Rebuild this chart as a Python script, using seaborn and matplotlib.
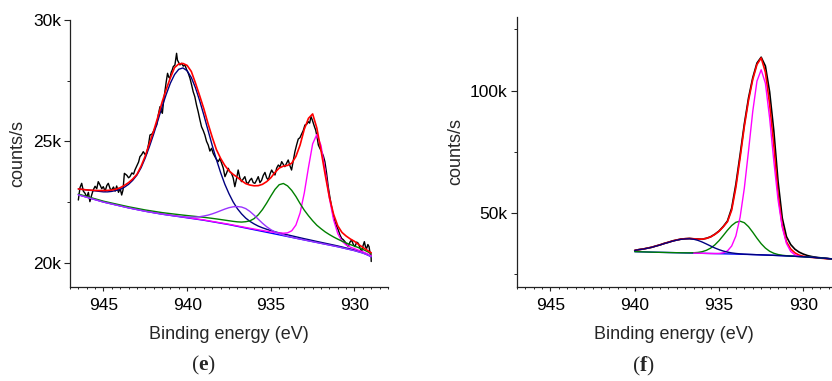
import numpy as np
import pandas as pd
import seaborn as sns
import matplotlib.pyplot as plt
import matplotlib.ticker as ticker

# ---------------- panel (e) ----------------
# fit curves sampled every 0.25 eV from 946.5 to 929.0 eV (counts/s)
e_energy = np.arange(946.5, 928.99, -0.25)
e_background = [22800, 22750, 22700, 22650, 22600, 22550, 22500, 22460, 22420, 22380,
                22340, 22300, 22260, 22225, 22190, 22155, 22120, 22090, 22060, 22030,
                22000, 21975, 21950, 21925, 21900, 21875, 21850, 21825, 21800, 21775,
                21750, 21720, 21690, 21660, 21630, 21600, 21570, 21535, 21500, 21465,
                21430, 21395, 21360, 21325, 21290, 21255, 21220, 21185, 21150, 21115,
                21080, 21045, 21010, 20975, 20940, 20905, 20870, 20835, 20800, 20765,
                20730, 20695, 20660, 20620, 20580, 20540, 20500, 20450, 20400, 20330,
                20250]
# component heights above the background
e_navy = [240, 270, 300, 330, 360, 390, 420, 460, 520, 600,
          680, 810, 970, 1170, 1420, 1760, 2200, 2700, 3240, 3820,
          4420, 4960, 5450, 5830, 6070, 6150, 6060, 5805, 5405, 4900,
          4330, 3735, 3140, 2590, 2085, 1640, 1275, 970, 730, 550,
          410, 310, 240, 185, 150, 125, 105, 90, 80, 75,
          70, 65, 60, 55, 50, 48, 45, 42, 40, 38,
          36, 34, 32, 30, 28, 26, 25, 24, 22, 21, 20]
e_purple = [2, 2, 2, 2, 2, 2, 2, 3, 3, 3,
            3, 3, 3, 3, 3, 3, 3, 3, 3, 3,
            3, 4, 4, 6, 11, 19, 32, 52, 81, 121,
            175, 242, 323, 415, 513, 610, 698, 769, 814, 830,
            801, 720, 602, 468, 339, 229, 144, 84, 46, 23,
            11, 5, 2, 1, 0, 0, 0, 0, 0, 0,
            0, 0, 0, 0, 0, 0, 0, 0, 0, 0, 0]
e_green = [30, 31, 32, 33, 34, 35, 36, 37, 38, 40,
           42, 44, 46, 48, 50, 52, 54, 57, 60, 63,
           66, 70, 74, 78, 83, 88, 94, 100, 108, 115,
           122, 130, 138, 145, 150, 155, 160, 170, 185, 210,
           260, 330, 456, 649, 899, 1200, 1527, 1836, 2064, 2150,
           2086, 1935, 1720, 1462, 1226, 1032, 860, 710, 602, 505,
           430, 366, 312, 269, 237, 209, 187, 168, 151, 135, 123]
e_magenta = [5, 5, 5, 6, 6, 6, 7, 7, 7, 8,
             8, 8, 9, 9, 9, 10, 10, 10, 11, 11,
             11, 12, 12, 12, 12, 13, 13, 13, 13, 13,
             13, 13, 13, 13, 14, 15, 16, 17, 18, 20,
             22, 25, 29, 33, 38, 44, 49, 62, 78, 102,
             151, 271, 543, 1077, 1931, 3022, 4027, 4450, 4027, 3022,
             1931, 1077, 543, 271, 151, 102, 78, 62, 49, 44, 38]
e_envelope = [23040, 23020, 23000, 22990, 22980, 22975, 22975, 22980, 22995, 23030,
              23090, 23185, 23300, 23450, 23640, 23980, 24400, 24920, 25430, 26000,
              26610, 27140, 27620, 28040, 28190, 28210, 28130, 27880, 27400, 26880,
              26340, 25730, 25170, 24660, 24300, 24010, 23790, 23640, 23520, 23380,
              23260, 23200, 23170, 23175, 23230, 23340, 23500, 23720, 23900, 23980,
              24010, 24100, 24380, 24850, 25500, 25950, 26130, 25550, 24620, 23620,
              22700, 22000, 21520, 21250, 21100, 20980, 20880, 20750, 20630, 20520, 20410]
# measured spectrum
e_data_energy = [946.50, 946.40, 946.30, 946.20, 946.10, 946.00, 945.90, 945.81, 945.70, 945.61,
                 945.50, 945.40, 945.31, 945.20, 945.10, 945.01, 944.90, 944.80, 944.71, 944.60,
                 944.51, 944.40, 944.30, 944.21, 944.10, 944.00, 943.91, 943.83, 943.75, 943.60,
                 943.50, 943.42, 943.30, 943.20, 943.12, 943.00, 942.90, 942.82, 942.72, 942.62,
                 942.50, 942.42, 942.30, 942.22, 942.10, 942.02, 941.92, 941.82, 941.72, 941.62,
                 941.55, 941.48, 941.40, 941.33, 941.25, 941.17, 941.10, 941.03, 940.95, 940.89,
                 940.83, 940.73, 940.63, 940.58, 940.53, 940.43, 940.33, 940.23, 940.13, 940.03,
                 939.93, 939.83, 939.73, 939.64, 939.54, 939.44, 939.34, 939.24, 939.14, 939.04,
                 938.94, 938.84, 938.74, 938.64, 938.54, 938.44, 938.34, 938.24, 938.14, 938.04,
                 937.94, 937.84, 937.74, 937.64, 937.54, 937.45, 937.35, 937.25, 937.15, 937.05,
                 936.95, 936.85, 936.75, 936.65, 936.55, 936.45, 936.35, 936.25, 936.15, 936.05,
                 935.95, 935.85, 935.75, 935.65, 935.55, 935.45, 935.35, 935.25, 935.15, 935.05,
                 934.95, 934.85, 934.75, 934.65, 934.55, 934.45, 934.35, 934.25, 934.16, 934.06,
                 933.96, 933.86, 933.76, 933.66, 933.56, 933.46, 933.36, 933.26, 933.16, 933.06,
                 932.96, 932.86, 932.76, 932.68, 932.60, 932.53, 932.46, 932.39, 932.32, 932.24,
                 932.16, 932.06, 931.96, 931.86, 931.77, 931.67, 931.57, 931.47, 931.37, 931.27,
                 931.17, 931.07, 930.97, 930.87, 930.77, 930.67, 930.57, 930.47, 930.37, 930.27,
                 930.17, 930.07, 929.97, 929.87, 929.77, 929.67, 929.57, 929.49, 929.41, 929.34,
                 929.27, 929.20, 929.13, 929.07, 929.01, 929.00]
e_data_counts = [22584, 23100, 23272, 22950, 22860, 22700, 22900, 22516, 22800, 22996,
                 23150, 23050, 23340, 23200, 23050, 23134, 22950, 23180, 23272, 23050,
                 22996, 23120, 22950, 23162, 22900, 23050, 22790, 23000, 23683, 23600,
                 23500, 23546, 23700, 23650, 23820, 24000, 24150, 24369, 24450, 24575,
                 24450, 24507, 24900, 25262, 25300, 25398, 25550, 25674, 26100, 26430,
                 26250, 26156, 26700, 27048, 27450, 27804, 27650, 27600, 27850, 27940,
                 28077, 28146, 28628, 28350, 28283, 28150, 28216, 28100, 28146, 27950,
                 27804, 27600, 27322, 27050, 26840, 26500, 26222, 25900, 25604, 25450,
                 25262, 25000, 24850, 24600, 24714, 24500, 24370, 24250, 24164, 24300,
                 24096, 23900, 23546, 23700, 23890, 23750, 23683, 23500, 23134, 23450,
                 23820, 23500, 23340, 23450, 23546, 23300, 23272, 23400, 23478, 23300,
                 23272, 23400, 23546, 23300, 23396, 23600, 23720, 23500, 23408, 23650,
                 23820, 23700, 23614, 23900, 24026, 23950, 24164, 24050, 23958, 24100,
                 24233, 24000, 23820, 24200, 24575, 24850, 25096, 25150, 25303, 25450,
                 25674, 25700, 25811, 25750, 26017, 25900, 25743, 25600, 25468, 25200,
                 24850, 24700, 24575, 24400, 24164, 23700, 23134, 22700, 22308, 21950,
                 21690, 21500, 21348, 21150, 21004, 20950, 20868, 20750, 20661, 20850,
                 20936, 20750, 20661, 20850, 20800, 20600, 20454, 20700, 20868, 20650,
                 20594, 20750, 20661, 20400, 20318, 20050]

# ---------------- panel (f) ----------------
f_energy = np.arange(940.0, 928.24, -0.25)
f_background = [34300, 34250, 34200, 34150, 34100, 34060, 34020, 33980, 33940, 33900,
                33860, 33820, 33780, 33740, 33700, 33660, 33620, 33580, 33540, 33500,
                33460, 33420, 33380, 33340, 33300, 33250, 33200, 33150, 33100, 33040,
                32980, 32920, 32860, 32790, 32720, 32650, 32570, 32490, 32400, 32310,
                32220, 32120, 32010, 31890, 31760, 31620, 31460, 31300]
f_navy = [500, 847, 1148, 1520, 1960, 2465, 3010, 3584, 4153, 4681,
          5145, 5498, 5725, 5800, 5655, 5237, 4605, 3851, 3057, 2303,
          1653, 1125, 725, 447, 261, 145, 75, 41, 20, 10,
          5, 0, 0, 0, 0, 0, 0, 0, 0, 0,
          0, 0, 0, 0, 0, 0, 0, 0]
f_green = [0, 0, 0, 0, 0, 0, 0, 0, 0, 0,
           6, 14, 30, 67, 148, 323, 660, 1253, 2182, 3543,
           5320, 7435, 9645, 11610, 12970, 13470, 12904, 11328, 9119, 6735,
           4553, 2829, 1603, 842, 404, 175, 67, 25, 10, 0,
           0, 0, 0, 0, 0, 0, 0, 0]
f_magenta = [np.nan] * 14 + [0, 0, 0, 5, 10, 30,
             120, 410, 1210, 3250, 7400, 15100, 26950, 42280, 58360, 70820,
             75500, 70060, 55950, 38430, 22730, 11550, 5060, 1890, 600, 170] + [np.nan] * 8
f_envelope = [34800, 35120, 35380, 35700, 36100, 36570, 37080, 37620, 38150, 38650,
              39080, 39400, 39600, 39650, 39550, 39400, 39400, 39700, 40300, 41300,
              42600, 44400, 46500, 51200, 60500, 72500, 85300, 96000, 104500, 110600,
              113300, 107500, 94500, 77500, 58000, 45000, 38300, 35400, 33800, 32900,
              32400, 32150, 31950, 31800, 31650, 31500, 31380, 31250]
f_data_counts = [34750, 35150, 35350, 35750, 36050, 36600, 37050, 37680, 38100, 38700,
                 39050, 39450, 39550, 39700, 39500, 39450, 39350, 39750, 40350, 41400,
                 42700, 44550, 46800, 52000, 61800, 73800, 86300, 97000, 105200, 111200,
                 113600, 110000, 99500, 83500, 63000, 48000, 40400, 37200, 35300, 34100,
                 33300, 32700, 32300, 32000, 31800, 31600, 31450, 31300]

NAVY, BLUE, PURPLE = '#000080', '#0000FF', '#9933FF'
GREEN, MAGENTA, RED = '#008000', '#FF00FF', '#FF0000'

sns.set_style('ticks')
plt.rcParams['font.family'] = ['Liberation Sans', 'DejaVu Sans']
plt.rcParams['mathtext.fontset'] = 'custom'
plt.rcParams['mathtext.rm'] = 'Liberation Serif'
plt.rcParams['mathtext.bf'] = 'Liberation Serif:bold'

fig = plt.figure(figsize=(8.32, 3.81), dpi=100)
ax_e = fig.add_axes([0.0841, 0.2467, 0.3822, 0.7008])
ax_f = fig.add_axes([0.6210, 0.2475, 0.3790, 0.7079])


def line(ax, x, y, color, lw=1.0):
    sns.lineplot(x=x, y=y, ax=ax, color=color, linewidth=lw, sort=False,
                 errorbar=None, legend=False)


# panel (e)
e_bg = np.array(e_background)
line(ax_e, e_data_energy, e_data_counts, 'black', 1.0)
line(ax_e, e_energy, e_bg, BLUE)
line(ax_e, e_energy, e_bg + np.array(e_navy), NAVY)
line(ax_e, e_energy, e_bg + np.array(e_magenta), MAGENTA)
line(ax_e, e_energy, e_bg + np.array(e_green), GREEN)
line(ax_e, e_energy, e_bg + np.array(e_purple), PURPLE)
line(ax_e, e_energy, e_envelope, RED, 1.2)

# panel (f)
f_bg = np.array(f_background)
line(ax_f, f_energy, f_data_counts, 'black', 1.2)
line(ax_f, f_energy, f_envelope, RED, 1.2)
line(ax_f, f_energy, f_bg, BLUE)
line(ax_f, f_energy, f_bg + np.array(f_green), GREEN)
line(ax_f, f_energy, f_bg + np.array(f_magenta), MAGENTA)
line(ax_f, f_energy, f_bg + np.array(f_navy), NAVY)

kfmt = ticker.FuncFormatter(lambda v, p: '{:d}k'.format(int(round(v / 1000))))

for ax, ylim, ymaj, ymin, xmax in [(ax_e, (19000, 30000), 5000, 2500, 928.0),
                                   (ax_f, (20000, 130000), 50000, 25000, 928.3)]:
    ax.set_xlim(947, xmax)
    ax.set_ylim(*ylim)
    ax.xaxis.set_major_locator(ticker.MultipleLocator(5))
    ax.xaxis.set_minor_locator(ticker.MultipleLocator(0.5))
    ax.yaxis.set_major_locator(ticker.MultipleLocator(ymaj))
    ax.yaxis.set_minor_locator(ticker.MultipleLocator(ymin))
    ax.yaxis.set_major_formatter(kfmt)
    ax.tick_params(axis='x', which='major', direction='out', length=3, width=0.8,
                   pad=5, labelsize=12.5, colors='#222222')
    ax.tick_params(axis='x', which='minor', direction='out', length=1.5, width=0.7,
                   colors='#222222')
    ax.tick_params(axis='y', which='major', direction='out', length=4.5, width=0.8,
                   pad=2, labelsize=12.5, colors='#222222')
    ax.tick_params(axis='y', which='minor', direction='out', length=2.5, width=0.7,
                   colors='#222222')
    ax.tick_params(labelcolor='black')
    for s in ['left', 'bottom']:
        ax.spines[s].set_color('#222222')
        ax.spines[s].set_linewidth(0.9)
    sns.despine(ax=ax)
    ax.set_xlabel('Binding energy (eV)', fontsize=13)
    ax.set_ylabel('counts/s', fontsize=13)
    ax.xaxis.set_label_coords(0.5, -0.146)

ax_e.yaxis.set_label_coords(-0.139, 0.5)
ax_f.yaxis.set_label_coords(-0.165, 0.5)

fig.text(0.245, 0.040, r'($\mathbf{e}$)', fontsize=15.5, family='Liberation Serif',
         ha='center', va='center')
fig.text(0.773, 0.039, r'($\mathbf{f}$)', fontsize=15.5, family='Liberation Serif',
         ha='center', va='center')

fig.savefig('out.png', dpi=100)
